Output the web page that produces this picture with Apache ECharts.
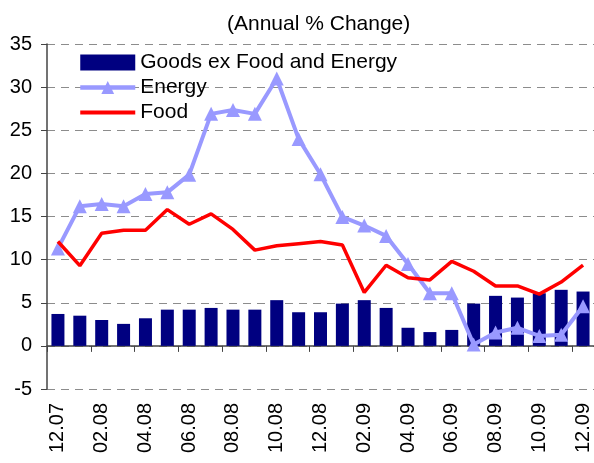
<!DOCTYPE html>
<html>
<head>
<meta charset="utf-8">
<script src="https://cdn.jsdelivr.net/npm/echarts@6/dist/echarts.min.js"></script>
<style>
  html, body { margin: 0; padding: 0; background: #fff; }
  #chart { width: 594px; height: 463px; }
</style>
</head>
<body>
<div id="chart"></div>
<script>
// months 12.07 .. 12.09
const months = [
  '12.07', '01.08', '02.08', '03.08', '04.08', '05.08', '06.08', '07.08', '08.08',
  '09.08', '10.08', '11.08', '12.08', '01.09', '02.09', '03.09', '04.09', '05.09',
  '06.09', '07.09', '08.09', '09.09', '10.09', '11.09', '12.09'
];

const goodsExFoodEnergy = [
  3.7, 3.5, 3.0, 2.55, 3.2, 4.2, 4.2, 4.4, 4.2, 4.2, 5.3, 3.9, 3.9,
  4.9, 5.3, 4.4, 2.1, 1.6, 1.85, 4.9, 5.8, 5.6, 6.1, 6.5, 6.3
];

const energy = [
  11.3, 16.2, 16.45, 16.2, 17.6, 17.8, 19.85, 26.9, 27.35, 26.9, 31.0, 24.0, 19.9,
  14.95, 13.95, 12.75, 9.5, 6.1, 6.1, 0.15, 1.55, 2.1, 1.15, 1.3, 4.6
];

const food = [
  12.1, 9.3, 13.05, 13.4, 13.4, 15.8, 14.1, 15.3, 13.5, 11.1, 11.6, 11.85, 12.1,
  11.7, 6.2, 9.35, 7.9, 7.65, 9.8, 8.65, 6.95, 6.95, 6.0, 7.4, 9.35
];

const yTicks = { min: -5, max: 35, step: 5 };

const font = '"Liberation Sans", Arial, sans-serif';

const chart = echarts.init(document.getElementById('chart'));

chart.setOption({
  animation: false,
  backgroundColor: '#fff',
  title: {
    text: '(Annual % Change)',
    left: 222,
    top: 9,
    textStyle: { fontFamily: font, fontSize: 21, fontWeight: 'normal', color: '#000' }
  },
  legend: {
    orient: 'vertical',
    left: 78,
    top: 52,
    padding: 0,
    itemWidth: 55,
    itemHeight: 16,
    itemGap: 4,
    data: [
      { name: 'Goods ex Food and Energy', icon: 'rect' },
      { name: 'Energy', lineStyle: { width: 4.5 } },
      // plain red line, no marker
      { name: 'Food', icon: 'path://M0,0 L55,0 L55,4 L0,4 Z' }
    ],
    textStyle: { fontFamily: font, fontSize: 21, color: '#000', lineHeight: 21 }
  },
  grid: {
    left: 47,
    top: 44,
    width: 551,
    height: 345,
    containLabel: false
  },
  xAxis: [
    {
      type: 'category',
      data: months,
      boundaryGap: true,
      axisLine: { onZero: true, lineStyle: { color: '#444', width: 1.5 } },
      axisTick: { show: true, interval: 1, length: 6, lineStyle: { color: '#444' } },
      axisLabel: { show: false },
      splitLine: { show: false }
    },
    {
      type: 'category',
      data: months,
      position: 'bottom',
      boundaryGap: true,
      axisLine: { show: false, onZero: false },
      axisTick: { show: false },
      axisLabel: {
        interval: 1,
        rotate: 90,
        margin: 14,
        fontFamily: font,
        fontSize: 20,
        color: '#000'
      }
    }
  ],
  yAxis: {
    type: 'value',
    min: yTicks.min,
    max: yTicks.max,
    interval: yTicks.step,
    axisLine: { show: true, lineStyle: { color: '#444', width: 1.5 } },
    axisTick: { show: true, length: 6, lineStyle: { color: '#444' } },
    axisLabel: { margin: 15, fontFamily: font, fontSize: 20, color: '#000' },
    splitLine: { show: true, lineStyle: { color: '#8c8c8c', type: [8, 6], width: 1 } }
  },
  series: [
    {
      name: 'Goods ex Food and Energy',
      type: 'bar',
      xAxisIndex: 0,
      data: goodsExFoodEnergy,
      barWidth: 13,
      itemStyle: { color: '#000080' },
      z: 1
    },
    {
      name: 'Energy',
      type: 'line',
      xAxisIndex: 0,
      data: energy,
      symbol: 'triangle',
      symbolSize: 14,
      lineStyle: { color: '#9999ff', width: 4 },
      itemStyle: { color: '#9999ff' },
      z: 3
    },
    {
      name: 'Food',
      type: 'line',
      xAxisIndex: 0,
      data: food,
      symbol: 'none',
      lineStyle: { color: '#ff0000', width: 3.5 },
      itemStyle: { color: '#ff0000' },
      z: 4
    }
  ]
});
</script>
</body>
</html>
